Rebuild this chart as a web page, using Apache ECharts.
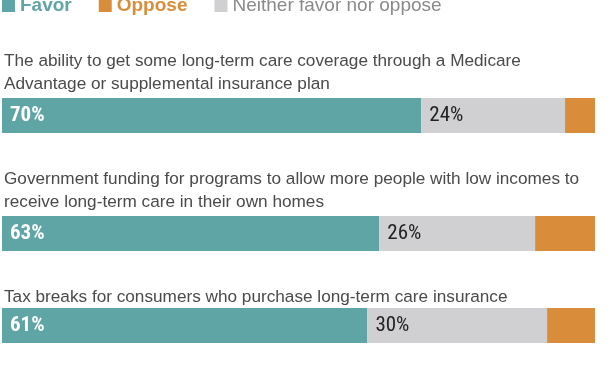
<!DOCTYPE html>
<html><head><meta charset="utf-8">
<script src="https://cdn.jsdelivr.net/npm/echarts@6/dist/echarts.min.js"></script>
<style>html,body{margin:0;padding:0;background:#fff}#c{width:612px;height:374px}</style>
</head><body><div id="c"></div>
<script>
const questions = [
  "The ability to get some long-term care coverage through a Medicare\nAdvantage or supplemental insurance plan",
  "Government funding for programs to allow more people with low incomes to\nreceive long-term care in their own homes",
  "Tax breaks for consumers who purchase long-term care insurance"
];
const favor = [70, 63, 61];
const neither = [24, 26, 30];
const oppose = [5, 10, 8];
const seriesNames = ["Favor", "Oppose", "Neither favor nor oppose"];

const colors = {Favor: "#5fa5a6", Oppose: "#d98d3a", Neither: "#d0d0d2"};
const gridTops = [98, 216, 308];
const titleTops = [45, 163, 281];
const labelFont = "'Liberation Sans Narrow', 'Arial Narrow', 'Roboto Condensed', sans-serif";

const grids = [], xAxes = [], yAxes = [], series = [], titles = [];
questions.forEach((q, i) => {
  grids.push({left: 2, right: 17, top: gridTops[i], height: 35});
  xAxes.push({type: 'value', gridIndex: i, min: 0, max: favor[i] + neither[i] + oppose[i], show: false});
  yAxes.push({type: 'category', gridIndex: i, data: [q], show: false});
  titles.push({text: q, left: 1, top: titleTops[i], padding: [5, 3], textStyle: {fontFamily: 'Liberation Sans, Arial, sans-serif', fontSize: 17.2, fontWeight: 'normal', color: '#4a4a4a', lineHeight: 23}});
  const common = {type: 'bar', stack: 's' + i, xAxisIndex: i, yAxisIndex: i, barWidth: 35, silent: true};
  series.push(Object.assign({}, common, {name: seriesNames[0], data: [favor[i]], itemStyle: {color: colors.Favor},
    label: {show: true, position: 'insideLeft', distance: 8, formatter: '{c}%', color: '#fff', fontWeight: 'bold', fontSize: 21, fontFamily: labelFont}}));
  series.push(Object.assign({}, common, {name: seriesNames[2], data: [neither[i]], itemStyle: {color: colors.Neither},
    label: {show: true, position: 'insideLeft', distance: 8, formatter: '{c}%', color: '#222', fontSize: 21, fontFamily: labelFont}}));
  series.push(Object.assign({}, common, {name: seriesNames[1], data: [oppose[i]], itemStyle: {color: colors.Oppose}}));
});

const chart = echarts.init(document.getElementById('c'));
chart.setOption({
  animation: false,
  title: titles,
  legend: {
    top: -4, left: 2, padding: 0, itemWidth: 13, itemHeight: 13, itemGap: 27, icon: 'rect', selectedMode: false,
    textStyle: {fontFamily: 'Liberation Sans, Arial, sans-serif', fontSize: 19},
    data: [
      {name: 'Favor', textStyle: {color: colors.Favor, fontWeight: 'bold'}},
      {name: 'Oppose', textStyle: {color: colors.Oppose, fontWeight: 'bold'}},
      {name: 'Neither favor nor oppose', textStyle: {color: '#8a8a8a'}}
    ]
  },
  grid: grids, xAxis: xAxes, yAxis: yAxes, series: series
});
</script></body></html>
